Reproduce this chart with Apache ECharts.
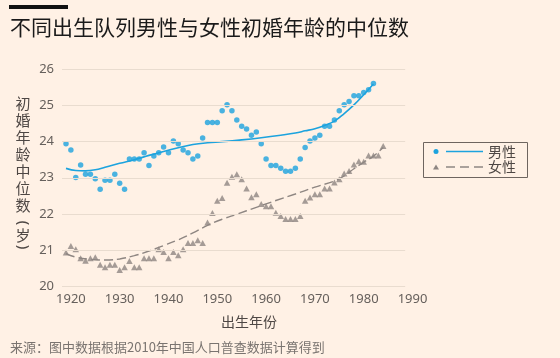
<!DOCTYPE html>
<html>
<head>
<meta charset="utf-8">
<script src="https://cdn.jsdelivr.net/npm/echarts@6/dist/echarts.min.js"></script>
<style>
  html, body { margin: 0; padding: 0; background: #fff1e5; }
  #chart { width: 560px; height: 358px; }
</style>
</head>
<body>
<div id="chart"></div>
<script>
// ---- Data ----
const cohortYears = [
  1919, 1920, 1921, 1922, 1923, 1924, 1925, 1926, 1927, 1928,
  1929, 1930, 1931, 1932, 1933, 1934, 1935, 1936, 1937, 1938,
  1939, 1940, 1941, 1942, 1943, 1944, 1945, 1946, 1947, 1948,
  1949, 1950, 1951, 1952, 1953, 1954, 1955, 1956, 1957, 1958,
  1959, 1960, 1961, 1962, 1963, 1964, 1965, 1966, 1967, 1968,
  1969, 1970, 1971, 1972, 1973, 1974, 1975, 1976, 1977, 1978,
  1979, 1980, 1981, 1982, 1983, 1984
];
// 男性 1919-1982
const maleValues = [
  23.94, 23.77, 23.01, 23.35, 23.10, 23.10, 22.97, 22.68, 22.93, 22.93,
  23.10, 22.85, 22.68, 23.52, 23.52, 23.52, 23.69, 23.34, 23.60, 23.69,
  23.85, 23.69, 24.02, 23.94, 23.77, 23.69, 23.52, 23.60, 24.10, 24.53,
  24.53, 24.53, 24.86, 25.02, 24.86, 24.60, 24.43, 24.35, 24.18, 24.27,
  23.94, 23.52, 23.34, 23.34, 23.26, 23.18, 23.18, 23.26, 23.52, 23.84,
  24.02, 24.10, 24.18, 24.43, 24.43, 24.60, 24.86, 25.02, 25.11, 25.27,
  25.27, 25.36, 25.44, 25.61
];
// 女性 1919-1984
const femaleValues = [
  20.93, 21.11, 21.02, 20.77, 20.70, 20.77, 20.80, 20.59, 20.52, 20.59,
  20.59, 20.44, 20.52, 20.69, 20.52, 20.52, 20.77, 20.77, 20.77, 21.02,
  20.94, 20.77, 20.94, 20.85, 21.02, 21.19, 21.19, 21.27, 21.19, 21.76,
  22.02, 22.36, 22.44, 22.86, 23.03, 23.10, 22.96, 22.70, 22.46, 22.54,
  22.27, 22.21, 22.21, 22.03, 21.94, 21.86, 21.86, 21.86, 21.94, 22.36,
  22.45, 22.54, 22.54, 22.70, 22.70, 22.87, 22.96, 23.12, 23.19, 23.37,
  23.46, 23.44, 23.62, 23.62, 23.62, 23.88
];
// smoothed trend lines
const maleFitYears  = [1919, 1921, 1923, 1925, 1927, 1930, 1933, 1936, 1939, 1942, 1945, 1948, 1951, 1955, 1959, 1963, 1966, 1968, 1970, 1972, 1974, 1976, 1978, 1980, 1982];
const maleFitValues = [23.26, 23.20, 23.19, 23.22, 23.29, 23.40, 23.50, 23.62, 23.73, 23.83, 23.92, 23.97, 24.00, 24.05, 24.11, 24.18, 24.24, 24.30, 24.36, 24.45, 24.57, 24.78, 25.02, 25.30, 25.60];
const femaleFitYears  = [1919, 1921, 1924, 1927, 1930, 1933, 1936, 1939, 1942, 1945, 1948, 1951, 1954, 1958, 1962, 1966, 1970, 1974, 1976, 1978, 1980, 1982, 1984];
const femaleFitValues = [20.90, 20.80, 20.74, 20.72, 20.75, 20.84, 20.97, 21.12, 21.28, 21.47, 21.68, 21.85, 21.99, 22.18, 22.37, 22.55, 22.74, 22.91, 23.05, 23.25, 23.43, 23.60, 23.84];

const xTickLabels = [1920, 1930, 1940, 1950, 1960, 1970, 1980, 1990];
const yTickLabels = [20, 21, 22, 23, 24, 25, 26];

const titleText = '不同出生队列男性与女性初婚年龄的中位数';
const xAxisName = '出生年份';
const yAxisNameMain = '初\n婚\n年\n龄\n中\n位\n数';
const yAxisUnitOpen = '(';
const yAxisUnit = '岁';
const yAxisUnitClose = ')';
const sourceText = '来源：图中数据根据2010年中国人口普查数据计算得到';
const maleName = '男性';
const femaleName = '女性';

// ---- Styles ----
const BLUE = '#1ca3de';
const GREY = '#8e8682';
const GRID = '#e9dccf';
const TEXT = '#4e4744';
const LABEL = '#66605c';
const CJK = '"Noto Sans CJK SC", sans-serif';
const NUM = '"Noto Sans", "Noto Sans CJK SC", sans-serif';

const X_MIN = 1918.18, X_MAX = 1990, GRID_END = 1988.5;

const zip = (xs, ys) => ys.map((v, i) => [xs[i], v]);

const chart = echarts.init(document.getElementById('chart'), null, { renderer: 'canvas' });
chart.setOption({
  backgroundColor: '#fff1e5',
  animation: false,
  grid: { left: 62, right: 147.5, top: 69.5, bottom: 72 },
  xAxis: {
    type: 'value', min: X_MIN, max: X_MAX,
    axisLine: { show: false }, axisTick: { show: false }, splitLine: { show: false },
    axisLabel: { customValues: xTickLabels, formatter: v => String(v), color: LABEL, fontSize: 13, fontFamily: NUM, margin: 7 }
  },
  yAxis: {
    type: 'value', min: 20, max: 26, interval: 1,
    axisLine: { show: false }, axisTick: { show: false }, splitLine: { show: false },
    axisLabel: { color: LABEL, fontSize: 13, fontFamily: NUM, margin: 8, padding: [0, 0, 6, 0] }
  },
  series: [
    {
      type: 'line', data: [], z: 1, silent: true,
      markLine: {
        silent: true, symbol: 'none', label: { show: false },
        lineStyle: { color: GRID, type: 'solid', width: 1 },
        data: yTickLabels.map(v => [{ coord: [X_MIN, v] }, { coord: [GRID_END, v] }])
      }
    },
    {
      name: maleName, type: 'scatter', data: zip(cohortYears, maleValues),
      symbol: 'circle', symbolSize: 5.5, itemStyle: { color: BLUE }, z: 3
    },
    {
      name: femaleName, type: 'scatter', data: zip(cohortYears, femaleValues),
      symbol: 'triangle', symbolSize: [6.5, 6], itemStyle: { color: GREY }, z: 3
    },
    {
      type: 'line', data: zip(maleFitYears, maleFitValues), smooth: 0.4,
      showSymbol: false, lineStyle: { color: BLUE, width: 1.6 }, z: 4
    },
    {
      type: 'line', data: zip(femaleFitYears, femaleFitValues), smooth: 0.4,
      showSymbol: false, lineStyle: { color: GREY, width: 1.4, type: [9, 4] }, z: 4
    }
  ],
  graphic: [
    { type: 'rect', shape: { x: 9, y: 5, width: 59, height: 4 }, style: { fill: '#111' } },
    { type: 'text', style: { text: titleText, x: 10, y: 27.5, font: '21px ' + CJK, fill: '#1a1a1a', verticalAlign: 'middle' } },
    { type: 'text', style: { text: yAxisNameMain, x: 23, y: 94.5, font: '15px ' + CJK, lineHeight: 17, fill: TEXT, align: 'center', verticalAlign: 'top' } },
    { type: 'text', x: 23, y: 223, rotation: -Math.PI / 2, style: { text: yAxisUnitOpen, x: 0, y: 0, font: '15px "Noto Sans", sans-serif', fill: TEXT, align: 'center', verticalAlign: 'middle' } },
    { type: 'text', style: { text: yAxisUnit, x: 23, y: 235, font: '15px ' + CJK, fill: TEXT, align: 'center', verticalAlign: 'middle' } },
    { type: 'text', x: 23, y: 247, rotation: -Math.PI / 2, style: { text: yAxisUnitClose, x: 0, y: 0, font: '15px "Noto Sans", sans-serif', fill: TEXT, align: 'center', verticalAlign: 'middle' } },
    { type: 'text', style: { text: xAxisName, x: 249, y: 322, font: '14px ' + CJK, fill: TEXT, align: 'center', verticalAlign: 'middle' } },
    { type: 'text', style: { text: sourceText, x: 10, y: 347, font: '13px ' + CJK, fill: '#7a7470', verticalAlign: 'middle' } },
    // legend
    { type: 'rect', shape: { x: 423.5, y: 142.5, width: 104, height: 35 }, style: { fill: 'none', stroke: '#6e655f', lineWidth: 1 } },
    { type: 'circle', shape: { cx: 436, cy: 151.5, r: 2.5 }, style: { fill: BLUE } },
    { type: 'line', shape: { x1: 446, y1: 151.5, x2: 483, y2: 151.5 }, style: { stroke: BLUE, lineWidth: 1.5 } },
    { type: 'text', style: { text: maleName, x: 488, y: 151.5, font: '14px ' + CJK, fill: TEXT, verticalAlign: 'middle' } },
    { type: 'polygon', shape: { points: [[433, 169.5], [439, 169.5], [436, 164.5]] }, style: { fill: GREY } },
    { type: 'line', shape: { x1: 446, y1: 167, x2: 483, y2: 167 }, style: { stroke: GREY, lineWidth: 1.3, lineDash: [9, 5] } },
    { type: 'text', style: { text: femaleName, x: 488, y: 167, font: '14px ' + CJK, fill: TEXT, verticalAlign: 'middle' } }
  ]
});
</script>
</body>
</html>
